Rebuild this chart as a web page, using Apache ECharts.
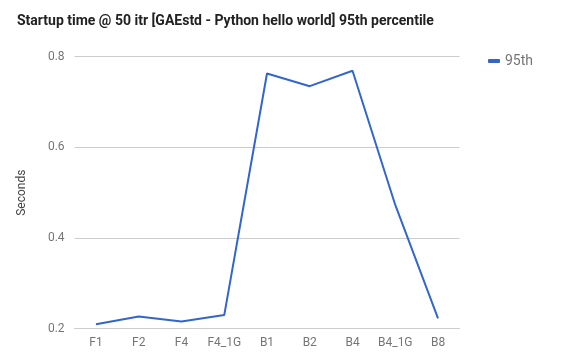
<!DOCTYPE html>
<html><head><meta charset="utf-8">
<script src="https://cdn.jsdelivr.net/npm/echarts@6/dist/echarts.min.js"></script>
<style>html,body{margin:0;padding:0;background:#fff}#c{width:585px;height:358px}</style>
</head><body><div id="c"></div>
<script>
const categories = ['F1','F2','F4','F4_1G','B1','B2','B4','B4_1G','B8'];
const values95 = [0.210,0.227,0.216,0.230,0.763,0.735,0.769,0.473,0.223];
const yTicks = [0.2,0.4,0.6,0.8];
const chart = echarts.init(document.getElementById('c'));
chart.setOption({
  animation:false,
  textStyle:{fontFamily:'Roboto'},
  title:{text:'Startup time @ 50 itr [GAEstd - Python hello world] 95th percentile',left:12,top:9,
    textStyle:{fontFamily:'Roboto',fontSize:14,fontWeight:'bold',color:'#222'}},
  legend:{data:['95th'],left:483,top:49,itemWidth:12,itemHeight:4,itemGap:8,icon:'roundRect',
    textStyle:{fontFamily:'Roboto',fontSize:14,color:'#757575'}},
  grid:{left:74.6,width:384.8,top:56.7,height:272,containLabel:false},
  xAxis:{type:'category',data:categories,boundaryGap:true,
    axisLine:{show:true,lineStyle:{color:'#cccccc'}},axisTick:{show:false},
    axisLabel:{color:'#757575',fontSize:12,margin:8,interval:0}},
  yAxis:{type:'value',min:0.2,max:0.8,interval:0.2,name:'Seconds',nameLocation:'middle',nameGap:47,
    nameTextStyle:{color:'#444',fontSize:12},
    axisLine:{show:false},axisTick:{show:false},
    axisLabel:{color:'#757575',fontSize:12,margin:10,formatter:v=>{const t=yTicks.find(x=>Math.abs(x-v)<1e-6);return t!==undefined?String(t):'';}},
    splitLine:{lineStyle:{color:'#cccccc'}}},
  series:[{name:'95th',type:'line',data:values95,symbol:'none',
    lineStyle:{color:'#3366cc',width:2},itemStyle:{color:'#3366cc'}}]
});
</script></body></html>
